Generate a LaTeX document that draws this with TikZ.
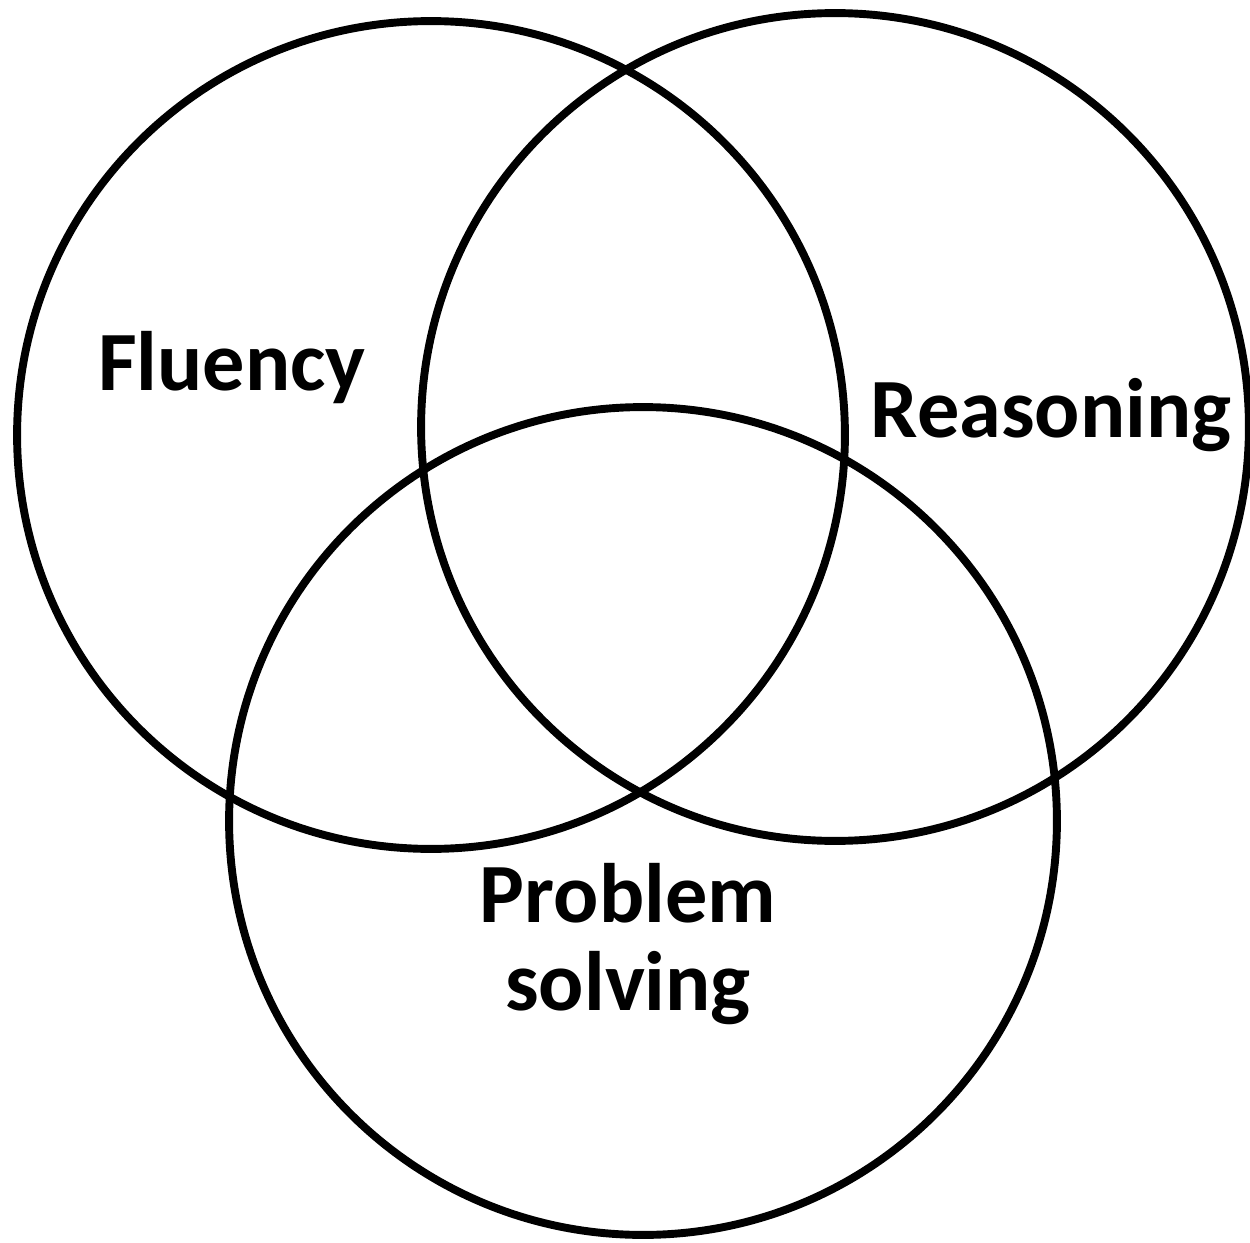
\documentclass[tikz,border=0pt]{standalone}
\usepackage{fontspec}
\setmainfont{Carlito}
\usepackage{tikz}
\definecolor{vnInk}{HTML}{000000}

\begin{document}
\begin{tikzpicture}[x=0.02cm,y=-0.02cm,
		ring/.style={circle,draw=vnInk,line width=4.5pt,minimum size=16.56cm,inner sep=0pt},
		label/.style={font=\fontsize{48}{50}\selectfont\bfseries,text=vnInk,anchor=base,align=center,inner sep=0pt}]
		\useasboundingbox (0,0) rectangle (1250,1243);
		\node[ring] (fluencyRing)   at (431,435) {};
		\node[ring] (reasoningRing) at (835,427) {};
		\node[ring] (problemRing)   at (643,821) {};
		\node[label] (fluency)   at (232,390) {Fluency};
		\node[label] (reasoning) at (1051,437) {Reasoning};
		\node[label] (problem)   at (628,1010) {Problem\\solving};
	\end{tikzpicture}
\end{document}
